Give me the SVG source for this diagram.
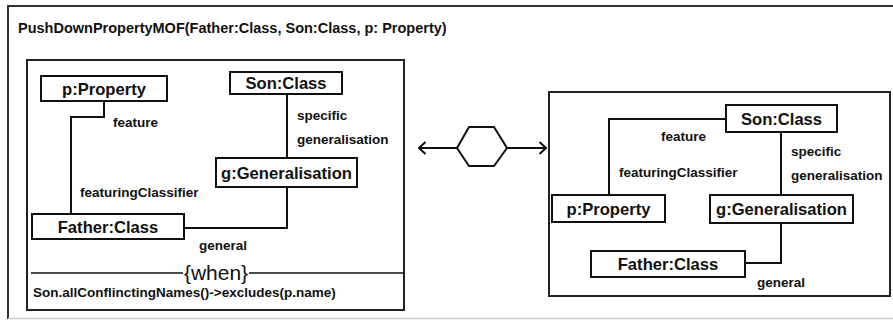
<svg xmlns="http://www.w3.org/2000/svg" width="893" height="320" viewBox="0 0 893 320">
<defs>
<style>
.frame{fill:none;stroke:#222;stroke-width:2}
.node rect{fill:#fff;stroke:#111;stroke-width:2}
.node text{font-family:"Liberation Sans",Arial,sans-serif;font-weight:bold;font-size:16.6px;fill:#111;text-anchor:middle}
.conn path{fill:none;stroke:#111;stroke-width:2}
.lbl{font-family:"Liberation Sans",Arial,sans-serif;font-weight:bold;font-size:13.5px;fill:#111}
</style>
<marker id="open" viewBox="0 0 10 14" refX="8.5" refY="7" markerWidth="10" markerHeight="14" markerUnits="userSpaceOnUse" orient="auto">
<path d="M2 1 L8.5 7 L2 13" fill="none" stroke="#111" stroke-width="2"/>
</marker>
</defs>
<rect width="893" height="320" fill="#fff"/>
<path d="M900 6 H8 V319" fill="none" stroke="#333" stroke-width="2"/>
<line x1="8" y1="318.5" x2="893" y2="318.5" stroke="#ccc" stroke-width="1.5"/>
<text x="18" y="33" font-family="Liberation Sans,Arial,sans-serif" font-weight="bold" font-size="14.5px" fill="#111">PushDownPropertyMOF(Father:Class, Son:Class, p: Property)</text>

<g id="lhs">
<rect class="frame" x="27" y="60" width="377" height="250"/>
<line x1="31" y1="273" x2="404" y2="273" stroke="#111" stroke-width="1.5"/>
<rect x="183" y="261" width="66" height="24" fill="#fff"/>
<text x="216" y="280" font-family="Liberation Sans,Arial,sans-serif" font-size="21px" fill="#111" text-anchor="middle">{when}</text>
<text class="lbl" x="33" y="297" font-size="13.8px">Son.allConflinctingNames()-&gt;excludes(p.name)</text>
</g>

<g id="rhs">
<rect class="frame" x="549" y="92" width="341" height="204"/>
</g>

<g class="conn" id="connectors">
<path d="M104 101 V117 H71 V214"/>
<path d="M287 94 V158"/>
<path d="M287 187 V228 H184"/>
<path d="M726 119 H609 V195"/>
<path d="M781 132 V195"/>
<path d="M781 223 V263 H745"/>
<path d="M457 148 H419" marker-end="url(#open)"/>
<path d="M507 148 H546" marker-end="url(#open)"/>
</g>

<g id="transform">
<polygon points="457,148 469,127 494,127 507,148 494,166 469,166" fill="#fff" stroke="#111" stroke-width="2"/>
</g>

<g class="labels">
<text class="lbl" x="113" y="127">feature</text>
<text class="lbl" x="297" y="120">specific</text>
<text class="lbl" x="297" y="144">generalisation</text>
<text class="lbl" x="80" y="197">featuringClassifier</text>
<text class="lbl" x="199" y="250">general</text>
<text class="lbl" x="661" y="141">feature</text>
<text class="lbl" x="619" y="177">featuringClassifier</text>
<text class="lbl" x="791" y="156">specific</text>
<text class="lbl" x="791" y="180">generalisation</text>
<text class="lbl" x="757" y="287">general</text>
</g>

<g class="node" id="l_pProperty"><rect x="41" y="76" width="126" height="25"/><text x="104" y="94.5">p:Property</text></g>
<g class="node" id="l_sonClass"><rect x="230" y="72" width="112" height="22"/><text x="286" y="89">Son:Class</text></g>
<g class="node" id="l_gGen"><rect x="216" y="158" width="141" height="29"/><text x="286.5" y="178.5">g:Generalisation</text></g>
<g class="node" id="l_father"><rect x="32" y="214" width="152" height="25"/><text x="108" y="232.5">Father:Class</text></g>

<g class="node" id="r_sonClass"><rect x="726" y="105" width="111" height="27"/><text x="781.5" y="124.5">Son:Class</text></g>
<g class="node" id="r_pProperty"><rect x="552" y="195" width="113" height="27"/><text x="608.5" y="214.5">p:Property</text></g>
<g class="node" id="r_gGen"><rect x="710" y="195" width="143" height="28"/><text x="781.5" y="215">g:Generalisation</text></g>
<g class="node" id="r_father"><rect x="591" y="251" width="154" height="26"/><text x="668" y="270">Father:Class</text></g>
</svg>
